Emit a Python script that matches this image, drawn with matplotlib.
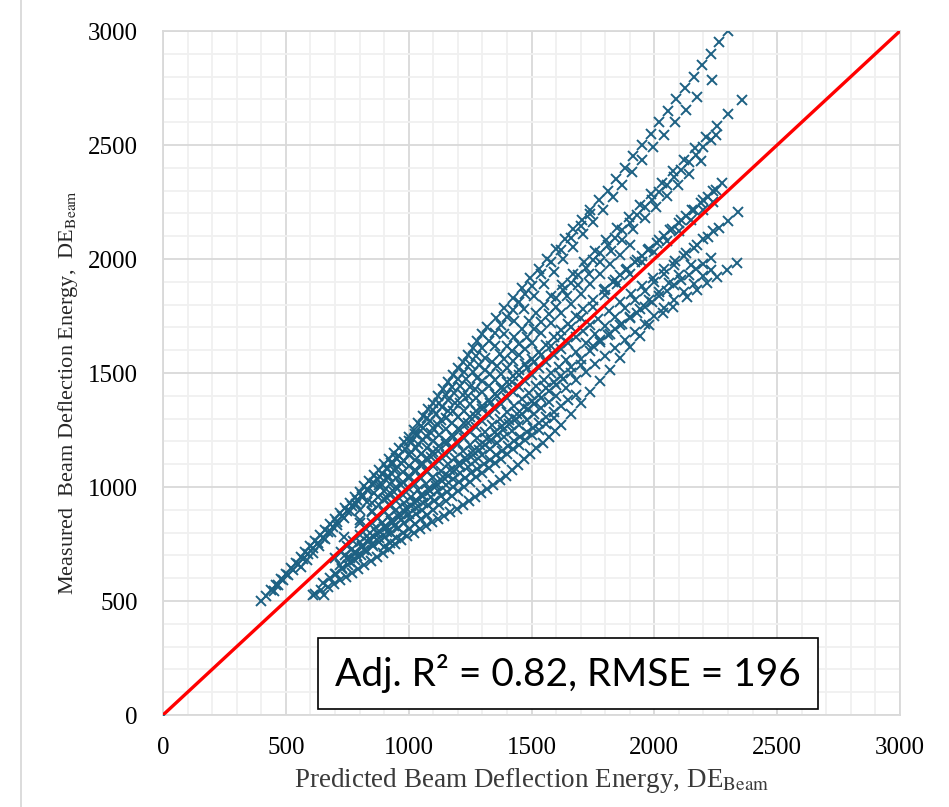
import numpy as np
import matplotlib
matplotlib.use("Agg")
import matplotlib.pyplot as plt
from matplotlib.ticker import MultipleLocator
from matplotlib.patches import Rectangle
from matplotlib.lines import Line2D

# streaks of (predicted, measured) points
ray_top = [(400, 500), (420, 524), (440, 548), (460, 572), (480, 596), (500, 620), (520, 644),
           (540, 668), (560, 692), (580, 716), (600, 740), (620, 764), (640, 788), (660, 812),
           (680, 836), (700, 860), (720, 884), (740, 908), (760, 932), (780, 956), (800, 980),
           (820, 1004), (840, 1028), (860, 1052), (880, 1076), (900, 1100), (920, 1124), (940, 1148),
           (960, 1172), (980, 1196), (1000, 1220), (1020, 1250), (1040, 1280), (1060, 1310),
           (1080, 1340), (1100, 1370), (1120, 1400), (1140, 1430), (1160, 1460), (1180, 1490),
           (1200, 1520), (1220, 1550), (1240, 1580), (1260, 1610), (1280, 1640), (1300, 1670),
           (1320, 1700), (1355, 1743), (1390, 1786), (1425, 1829), (1460, 1872), (1495, 1915),
           (1530, 1958), (1565, 2001), (1600, 2044), (1635, 2087), (1670, 2130), (1705, 2173),
           (1740, 2216), (1775, 2259), (1810, 2300), (1845, 2350), (1880, 2400), (1915, 2450),
           (1950, 2500), (1985, 2550), (2020, 2600), (2055, 2650), (2090, 2700), (2125, 2750),
           (2160, 2800), (2195, 2850), (2230, 2900), (2265, 2950), (2300, 3000)]
ray_second = [(450, 545), (470, 568), (490, 592), (510, 615), (530, 638), (550, 662), (570, 685),
              (590, 708), (610, 732), (630, 755), (650, 778), (670, 802), (690, 825), (710, 848),
              (730, 872), (750, 895), (770, 918), (790, 942), (810, 965), (830, 988), (850, 1012),
              (870, 1035), (890, 1058), (910, 1082), (930, 1105), (950, 1128)]
streak_p1 = [(1000, 1200), (1025, 1234), (1050, 1268), (1075, 1302), (1100, 1336), (1125, 1370),
             (1150, 1404), (1175, 1438), (1200, 1472), (1225, 1506), (1250, 1540), (1275, 1574),
             (1300, 1608), (1325, 1642), (1350, 1676), (1375, 1710), (1400, 1744), (1425, 1778),
             (1450, 1812), (1475, 1846), (1500, 1880), (1540, 1933), (1580, 1986), (1620, 2039),
             (1660, 2092), (1700, 2145), (1740, 2198)]
streak_b = [(560, 650), (585, 680), (610, 711), (635, 741), (660, 772), (685, 802), (710, 833),
            (735, 863), (760, 894), (785, 924), (810, 955), (835, 985), (860, 1016), (885, 1046),
            (910, 1077), (935, 1107), (960, 1138), (985, 1168), (1010, 1199), (1035, 1229),
            (1060, 1260), (1085, 1290), (1110, 1321), (1135, 1351), (1160, 1382), (1185, 1412),
            (1210, 1443), (1235, 1473), (1260, 1504), (1285, 1534), (1310, 1565), (1350, 1619),
            (1390, 1673), (1430, 1728), (1470, 1782), (1510, 1837), (1550, 1891), (1590, 1945),
            (1630, 2000), (1670, 2054), (1710, 2108), (1750, 2163), (1790, 2217), (1830, 2272),
            (1870, 2326), (1910, 2380), (1950, 2435), (1995, 2490), (2040, 2545), (2085, 2600),
            (2130, 2655), (2175, 2710), (2234, 2785)]
streak_c = [(800, 900), (830, 936), (860, 972), (890, 1008), (920, 1044), (950, 1080), (980, 1116),
            (1010, 1152), (1040, 1188), (1070, 1224), (1100, 1260), (1130, 1296), (1160, 1332),
            (1190, 1368), (1220, 1404), (1250, 1440), (1280, 1476), (1310, 1512), (1340, 1548),
            (1370, 1584), (1400, 1620), (1430, 1656), (1460, 1692), (1490, 1728), (1520, 1764),
            (1550, 1800), (1580, 1836), (1625, 1885), (1670, 1935), (1715, 1985), (1760, 2035),
            (1805, 2085), (1850, 2135), (1895, 2185), (1940, 2235), (1985, 2285), (2030, 2335),
            (2075, 2385), (2120, 2435), (2165, 2485), (2210, 2535), (2255, 2585), (2300, 2635),
            (2357, 2697)]
streak_q1 = [(1600, 1830), (1630, 1863), (1660, 1896), (1690, 1929), (1720, 1962), (1750, 1995),
             (1780, 2028), (1810, 2061), (1840, 2094), (1870, 2127), (1900, 2160), (1930, 2193),
             (1960, 2226), (1990, 2259), (2020, 2292), (2050, 2325), (2080, 2358), (2110, 2391),
             (2140, 2424), (2170, 2457), (2200, 2490), (2230, 2523), (2250, 2545)]
streak_d = [(880, 1010), (910, 1042), (940, 1075), (970, 1107), (1000, 1140), (1030, 1172),
            (1060, 1205), (1090, 1237), (1120, 1270), (1150, 1302), (1180, 1335), (1210, 1367),
            (1240, 1400), (1270, 1432), (1300, 1465), (1330, 1497), (1360, 1530), (1390, 1562),
            (1420, 1595), (1450, 1627), (1480, 1660), (1510, 1692), (1540, 1725), (1570, 1757),
            (1600, 1790), (1645, 1839), (1690, 1887), (1735, 1936), (1780, 1985), (1825, 2033),
            (1870, 2082), (1915, 2130), (1960, 2179), (2005, 2228), (2050, 2276), (2095, 2325),
            (2140, 2374), (2190, 2430)]
streak_p2 = [(850, 930), (875, 957), (900, 984), (925, 1011), (950, 1038), (975, 1065), (1000, 1092),
             (1025, 1119), (1050, 1146), (1075, 1173), (1100, 1200), (1125, 1227), (1150, 1254),
             (1175, 1281), (1200, 1308), (1225, 1335), (1250, 1362), (1275, 1389), (1300, 1416),
             (1325, 1443), (1350, 1470), (1375, 1497), (1400, 1524), (1425, 1551), (1450, 1578),
             (1475, 1605), (1500, 1632), (1540, 1675), (1580, 1718), (1620, 1761), (1660, 1804),
             (1700, 1847), (1740, 1890), (1780, 1933), (1820, 1976), (1860, 2019), (1900, 2062)]
streak_e = [(735, 780), (800, 843), (850, 895), (900, 946), (925, 972), (950, 998), (975, 1023),
            (1000, 1049), (1025, 1075), (1050, 1100), (1075, 1126), (1100, 1152), (1125, 1178),
            (1150, 1203), (1175, 1229), (1200, 1255), (1225, 1280), (1250, 1306), (1275, 1332),
            (1300, 1357), (1325, 1383), (1350, 1409), (1375, 1435), (1400, 1460), (1425, 1486),
            (1450, 1512), (1475, 1538), (1500, 1563), (1530, 1594), (1560, 1625), (1590, 1656),
            (1620, 1687), (1650, 1717), (1680, 1748), (1710, 1779), (1750, 1820), (1795, 1864),
            (1840, 1908), (1885, 1952), (1930, 1996), (1975, 2040), (2020, 2084), (2065, 2128),
            (2110, 2172), (2155, 2216), (2200, 2260), (2240, 2300), (2275, 2333)]
streak_q3 = [(1800, 1870), (1830, 1899), (1860, 1928), (1890, 1957), (1920, 1986), (1950, 2014),
             (1980, 2043), (2010, 2072), (2040, 2101), (2070, 2130), (2100, 2158), (2130, 2187),
             (2160, 2216), (2190, 2245), (2220, 2274), (2250, 2302)]
streak_f = [(850, 890), (880, 920), (910, 950), (940, 980), (970, 1010), (1000, 1040), (1030, 1070),
            (1060, 1100), (1090, 1130), (1120, 1160), (1150, 1190), (1180, 1220), (1210, 1250),
            (1240, 1280), (1270, 1310), (1300, 1340), (1330, 1370), (1360, 1400), (1390, 1430),
            (1420, 1460), (1450, 1490), (1480, 1520), (1510, 1550), (1540, 1580), (1580, 1620),
            (1620, 1660), (1660, 1700), (1700, 1740), (1750, 1790), (1800, 1840), (1850, 1890),
            (1900, 1935), (1950, 1985), (2000, 2030), (2050, 2080), (2100, 2125), (2150, 2170),
            (2200, 2215), (2240, 2250)]
streak_g = [(700, 690), (725, 715), (750, 740), (775, 765), (800, 790), (825, 815), (850, 840),
            (875, 865), (900, 890), (925, 915), (950, 940), (975, 965), (1000, 990), (1025, 1015),
            (1050, 1040), (1075, 1065), (1100, 1090), (1125, 1115), (1150, 1140), (1175, 1165),
            (1200, 1190), (1225, 1215), (1250, 1240), (1275, 1265), (1300, 1290), (1325, 1315),
            (1350, 1340), (1375, 1365), (1400, 1390), (1425, 1415), (1450, 1440), (1475, 1465),
            (1500, 1490), (1530, 1520), (1560, 1550), (1590, 1578), (1620, 1605), (1650, 1632),
            (1680, 1660), (1710, 1686), (1740, 1712), (1770, 1738), (1815, 1774), (1860, 1810),
            (1905, 1846), (1950, 1882), (1995, 1918), (2040, 1954), (2085, 1990), (2130, 2026),
            (2175, 2062), (2220, 2098), (2265, 2134), (2300, 2165), (2340, 2206)]
streak_h = [(740, 700), (770, 728), (800, 757), (830, 785), (860, 814), (890, 842), (920, 871),
            (950, 900), (980, 928), (1010, 956), (1040, 985), (1070, 1013), (1100, 1042),
            (1130, 1070), (1160, 1099), (1190, 1128), (1220, 1156), (1250, 1184), (1280, 1213),
            (1310, 1241), (1340, 1270), (1370, 1298), (1400, 1327), (1430, 1356), (1460, 1384),
            (1490, 1412), (1520, 1441), (1550, 1470), (1580, 1498), (1610, 1526), (1640, 1555),
            (1680, 1593), (1720, 1631), (1760, 1669), (1800, 1707), (1840, 1745), (1880, 1783),
            (1920, 1821), (1960, 1859), (2000, 1897), (2040, 1935), (2080, 1973), (2120, 2011),
            (2160, 2049), (2200, 2087), (2240, 2125)]
streak_i = [(720, 660), (750, 688), (780, 715), (810, 743), (840, 770), (870, 798), (900, 826),
            (930, 853), (960, 881), (990, 908), (1020, 936), (1050, 964), (1080, 991), (1110, 1019),
            (1140, 1046), (1170, 1074), (1200, 1102), (1230, 1129), (1260, 1157), (1290, 1184),
            (1320, 1212), (1350, 1240), (1380, 1267), (1410, 1295), (1440, 1322), (1470, 1350),
            (1500, 1378), (1530, 1405), (1560, 1433), (1590, 1460), (1620, 1488), (1660, 1525),
            (1700, 1562), (1740, 1598), (1780, 1635), (1820, 1672), (1860, 1709), (1900, 1746),
            (1940, 1782), (1980, 1819), (2020, 1856), (2060, 1893), (2100, 1930), (2150, 1975)]
streak_q2 = [(1750, 1620), (1780, 1644), (1810, 1668), (1840, 1692), (1870, 1716), (1900, 1740),
             (1930, 1764), (1960, 1788), (1990, 1812), (2020, 1836), (2050, 1860), (2080, 1884),
             (2110, 1908), (2140, 1932), (2170, 1956), (2200, 1980), (2230, 2004)]
streak_p3 = [(760, 690), (785, 712), (810, 735), (835, 757), (860, 780), (885, 802), (910, 825),
             (935, 847), (960, 870), (985, 892), (1010, 915), (1035, 937), (1060, 960), (1085, 982),
             (1110, 1005), (1135, 1027), (1160, 1050), (1185, 1072), (1210, 1095), (1235, 1117),
             (1260, 1140), (1285, 1162), (1310, 1185), (1335, 1207), (1360, 1230), (1385, 1252),
             (1410, 1275), (1435, 1297), (1460, 1320), (1485, 1342), (1510, 1365), (1540, 1392),
             (1570, 1419), (1600, 1446), (1630, 1473), (1660, 1500), (1700, 1536)]
streak_j = [(700, 620), (730, 646), (760, 672), (790, 698), (820, 724), (850, 750), (880, 776),
            (910, 802), (940, 828), (970, 854), (1000, 880), (1030, 906), (1060, 932), (1090, 958),
            (1120, 984), (1150, 1010), (1180, 1036), (1210, 1062), (1240, 1088), (1270, 1114),
            (1300, 1140), (1330, 1166), (1360, 1192), (1390, 1218), (1420, 1244), (1450, 1270),
            (1480, 1296), (1510, 1322), (1540, 1348), (1570, 1374), (1600, 1400), (1640, 1435),
            (1680, 1470), (1720, 1505), (1760, 1540), (1800, 1575), (1840, 1610), (1880, 1645),
            (1920, 1680), (1960, 1715), (2000, 1750), (2040, 1785), (2080, 1820), (2120, 1855),
            (2160, 1890), (2200, 1925), (2230, 1950)]
streak_k = [(680, 600), (705, 620), (730, 640), (755, 660), (780, 680), (805, 700), (830, 720),
            (855, 740), (880, 760), (905, 780), (930, 800), (955, 820), (980, 840), (1005, 860),
            (1030, 880), (1055, 900), (1080, 920), (1105, 940), (1130, 960), (1155, 980),
            (1180, 1000), (1205, 1020), (1230, 1040), (1255, 1060), (1280, 1080), (1305, 1100),
            (1330, 1120), (1355, 1140), (1380, 1160), (1405, 1180), (1430, 1200), (1455, 1220),
            (1480, 1240), (1505, 1260), (1530, 1280), (1560, 1305), (1590, 1330), (1620, 1355),
            (1650, 1380), (1680, 1405)]
streak_p4 = [(900, 735), (925, 756), (950, 776), (975, 797), (1000, 817), (1025, 838), (1050, 858),
             (1075, 879), (1100, 899), (1125, 920), (1150, 940), (1175, 961), (1200, 981),
             (1225, 1002), (1250, 1022), (1275, 1043), (1300, 1063), (1325, 1084), (1350, 1104),
             (1375, 1125), (1400, 1145), (1425, 1166), (1450, 1186), (1475, 1207), (1500, 1227),
             (1530, 1252), (1560, 1276), (1590, 1301)]
streak_low = [(620, 530), (645, 548), (670, 562), (695, 575), (720, 590), (745, 605), (770, 622),
              (795, 640), (820, 658), (845, 675), (870, 693), (895, 712), (920, 730), (945, 748),
              (970, 766), (995, 784), (1020, 800), (1045, 815), (1070, 830), (1095, 845),
              (1120, 860), (1145, 875), (1170, 890), (1195, 905), (1220, 920), (1245, 938),
              (1270, 956), (1295, 974), (1320, 992), (1345, 1010), (1370, 1030), (1395, 1050),
              (1420, 1074), (1445, 1098), (1470, 1122), (1495, 1146), (1520, 1170), (1545, 1195),
              (1570, 1220), (1595, 1245), (1620, 1270), (1660, 1319), (1700, 1368), (1740, 1417),
              (1780, 1466), (1820, 1515), (1860, 1564), (1900, 1613), (1940, 1662), (1980, 1711),
              (2035, 1763), (2076, 1789), (2133, 1833), (2175, 1865), (2214, 1895), (2255, 1921),
              (2295, 1952), (2336, 1982)]
stray_points = [(0, 0), (610, 525), (655, 525), (650, 580), (800, 855)]

all_streaks = [ray_top, ray_second, streak_p1, streak_b, streak_c, streak_q1, streak_d,
               streak_p2, streak_e, streak_q3, streak_f, streak_g, streak_h, streak_i, streak_q2,
               streak_p3, streak_j, streak_k, streak_p4, streak_low, stray_points]

ticks = [0, 500, 1000, 1500, 2000, 2500, 3000]
stats_text = "Adj. R\u00b2 = 0.82, RMSE = 196"

plt.rcParams["mathtext.fontset"] = "stix"
serif = "Liberation Serif"

fig = plt.figure(figsize=(9.49, 8.07), dpi=100)
ax = fig.add_axes([163 / 949, 1 - 715 / 807, 737 / 949, 684 / 807])

pts = np.array([p for s in all_streaks for p in s], dtype=float)
ax.plot(pts[:, 0], pts[:, 1], linestyle="none", marker="x", ms=7.6, mew=1.4,
        color="#1d6183", zorder=3)

# 1:1 line
ax.plot([0, 3000], [0, 3000], color="#ff0000", lw=2.4, zorder=4)

ax.set_xlim(0, 3000)
ax.set_ylim(0, 3000)
ax.set_xticks(ticks)
ax.set_yticks(ticks)
ax.xaxis.set_minor_locator(MultipleLocator(100))
ax.yaxis.set_minor_locator(MultipleLocator(100))
ax.set_axisbelow(True)
ax.grid(which="major", color="#d9d9d9", lw=1.3)
ax.grid(which="minor", color="#f0f0f0", lw=1.3)
ax.tick_params(which="both", length=0)
ax.tick_params(axis="x", pad=16)
ax.tick_params(axis="y", pad=18)
for lab in ax.get_xticklabels() + ax.get_yticklabels():
    lab.set_fontfamily(serif)
    lab.set_fontsize(18)
for sp in ax.spines.values():
    sp.set_color("#d9d9d9")
    sp.set_linewidth(1.3)

ax.set_xlabel(r"Predicted Beam Deflection Energy, DE$_{\mathrm{Beam}}$",
              fontfamily=serif, fontsize=19.5, color="#3a3a3a")
ax.xaxis.set_label_coords(0.5, -0.074)
ax.set_ylabel(r"Measured  Beam Deflection Energy,  DE$_{\mathrm{Beam}}$",
              fontfamily=serif, fontsize=16, color="#262626")
ax.yaxis.set_label_coords(-0.113, 0.472)

ax.add_patch(Rectangle((0.2103, 0.0088), 0.6784, 0.1038, transform=ax.transAxes,
                       facecolor="white", edgecolor="black", lw=1.2, zorder=5))
ax.text(0.5495, 0.0607, stats_text, transform=ax.transAxes, ha="center", va="center",
        fontfamily="Lato", fontsize=28, zorder=6)

fig.add_artist(Line2D([21 / 949, 21 / 949], [0, 1], color="#d9d9d9", lw=1.3))

fig.savefig("out.png", dpi=100)
